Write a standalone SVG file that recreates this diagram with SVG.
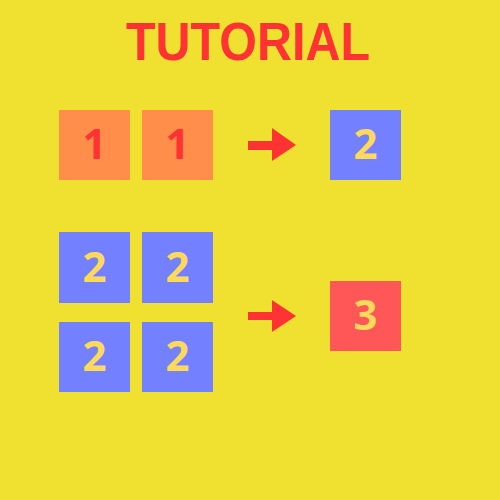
<svg xmlns="http://www.w3.org/2000/svg" width="500" height="500" viewBox="0 0 500 500">
<style>
.o{fill:#FF8E4A}.b{fill:#7380FF}.r{fill:#FF5757}
.d{font-family:"Open Sans","DejaVu Sans",sans-serif;font-weight:bold;font-size:42px;text-anchor:middle}
.dr{fill:#FF3333}.dy{fill:#FFD95A}
.arr{fill:#FF3333}
</style>
<rect width="500" height="500" fill="#F0E130"/>
<text x="248" y="60" font-family="'Liberation Sans',Arial,sans-serif" font-weight="bold" font-size="53" fill="#FF3333" text-anchor="middle" textLength="244" lengthAdjust="spacingAndGlyphs">TUTORIAL</text>
<g id="n1"><rect class="o" x="59" y="110" width="71" height="70"/><text class="d dr" x="94.5" y="159">1</text></g>
<g id="n2"><rect class="o" x="142" y="110" width="71" height="70"/><text class="d dr" x="177.5" y="159">1</text></g>
<g id="n3"><rect class="b" x="330" y="110" width="71" height="70"/><text class="d dy" x="365.5" y="159">2</text></g>
<g id="n4"><rect class="b" x="59" y="232" width="71" height="71"/><text class="d dy" x="94.5" y="282">2</text></g>
<g id="n5"><rect class="b" x="142" y="232" width="71" height="71"/><text class="d dy" x="177.5" y="282">2</text></g>
<g id="n6"><rect class="b" x="59" y="322" width="71" height="70"/><text class="d dy" x="94.5" y="371">2</text></g>
<g id="n7"><rect class="b" x="142" y="322" width="71" height="70"/><text class="d dy" x="177.5" y="371">2</text></g>
<g id="n8"><rect class="r" x="330" y="281" width="71" height="70"/><text class="d dy" x="365.5" y="330">3</text></g>
<g id="connectors">
<polygon class="arr" points="248,141 272,141 272,128 296,145 272,161 272,150 248,150"/>
<polygon class="arr" points="248,312 272,312 272,300 296,316 272,332 272,320 248,320"/>
</g>
</svg>
